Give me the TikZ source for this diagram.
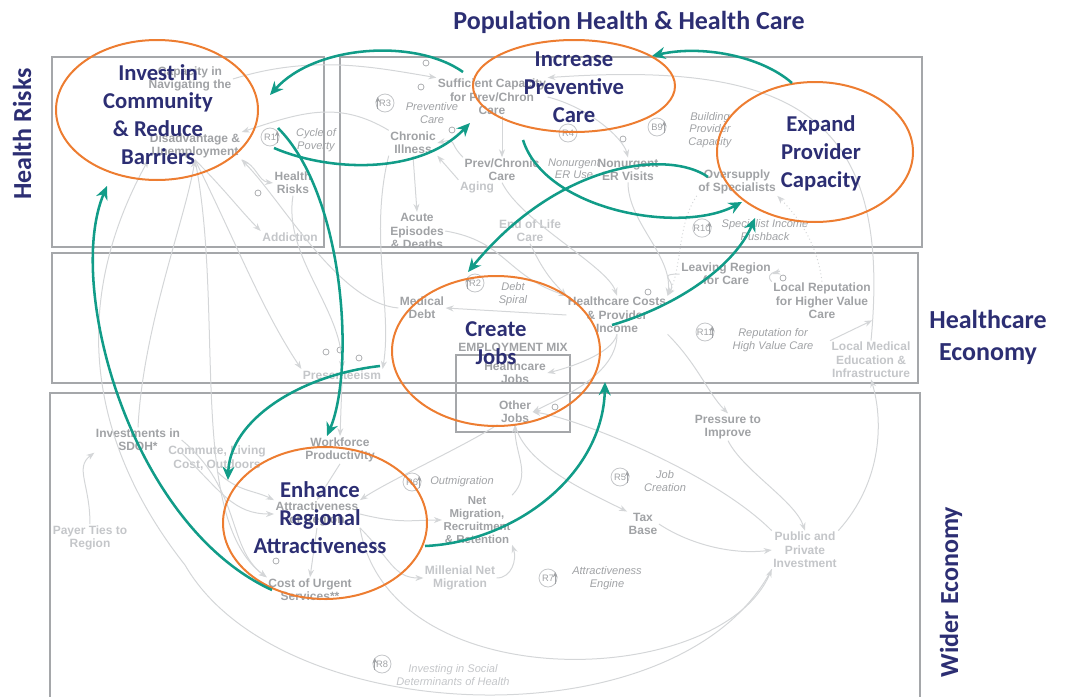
\documentclass[tikz,border=0pt]{standalone}
\usepackage{fontspec}
\setmainfont{Liberation Sans}
\newfontfamily\calfont{Carlito}
\usetikzlibrary{arrows.meta,shapes.geometric,calc}
\definecolor{navy}{RGB}{44,46,115}
\definecolor{tealc}{RGB}{17,156,136}
\definecolor{orng}{RGB}{237,125,49}
\definecolor{lab}{RGB}{160,162,165}
\definecolor{labl}{RGB}{196,198,201}
\definecolor{gline}{RGB}{212,214,216}
\definecolor{boxc}{RGB}{165,167,170}
\begin{document}
\begin{tikzpicture}[x=0.75pt,y=-0.75pt,
  glab/.style={font=\bfseries\fontsize{9}{10}\selectfont, text=lab, align=center, inner sep=1pt},
  glabl/.style={glab, text=labl},
  gital/.style={font=\itshape\fontsize{8.3}{9.3}\selectfont, text=lab, align=center, inner sep=1pt},
  loopc/.style={circle, draw=labl, line width=0.6pt, minimum size=13.5pt, inner sep=0pt, font=\fontsize{7}{8}\selectfont, text=lab},
  la/.style={draw=lab, line width=0.6pt, -{Stealth[length=4pt,width=3.5pt]}},
  pol/.style={circle, draw=lab, line width=0.5pt, minimum size=4.5pt, inner sep=0pt},
  gl/.style={draw=gline, line width=0.75pt},
  ga/.style={gl, -{Stealth[length=6pt,width=4.5pt]}},
  gd/.style={ga, dotted},
  box/.style={draw=boxc, line width=0.9pt},
  ell/.style={ellipse, draw=orng, line width=1.5pt, inner sep=0pt},
  big/.style={font=\calfont\bfseries\fontsize{17}{21}\selectfont, text=navy, align=center, inner sep=0pt},
  ttl/.style={font=\calfont\bfseries\fontsize{19.5}{24}\selectfont, text=navy, align=center, inner sep=0pt},
  ta/.style={draw=tealc, line width=1.9pt, -{Stealth[length=10pt,width=9pt]}}
]
\useasboundingbox (0,0) rectangle (1067,696);

% ---------- boxes ----------
\draw[box] (52,57) rectangle (324,247);
\draw[box] (340,57) rectangle (922,247);
\draw[box] (52,253) rectangle (918,383);
\draw[box] (50,393) rectangle (920,710);
\draw[box] (456,355) rectangle (570,432);

% ---------- titles ----------
\node[ttl] (tpop) at (629,22) {Population Health \& Health Care};
\node[ttl, rotate=90] (thr) at (22,134) {Health Risks};
\node[ttl] (the) at (988,337) {Healthcare\\Economy};
\node[ttl, rotate=90] (twe) at (951,592) {Wider Economy};

% ---------- gray labels ----------
\node[glab] (nav) at (190,79) {Capacity in\\Navigating the};
\node[glab] (dis) at (195,146) {Disadvantage \&\\Unemployment};
\node[gital] (cyc) at (316,140) {Cycle of\\Poverty};
\node[glab] (hr) at (293,183) {Health\\Risks};
\node[glabl] (add) at (290,237) {Addiction};
\node[glab] (suf) at (492,97) {Sufficient Capacity\\for Prev/Chron\\Care};
\node[gital] (prevc) at (432,113) {Preventive\\Care};
\node[glab] (chr) at (413,143) {Chronic\\Illness};
\node[glab] (pcc) at (502,170) {Prev/Chronic\\Care};
\node[glabl] (aging) at (477,187) {Aging};
\node[glab] (acute) at (417,231) {Acute\\Episodes\\\& Deaths};
\node[glabl] (eol) at (530,231) {End of Life\\Care};
\node[gital] (neru) at (574,169) {Nonurgent\\ER Use};
\node[glab] (ner) at (628,170) {Nonurgent\\ER Visits};
\node[gital] (bpc) at (710,130) {Building\\Provider\\Capacity};
\node[glab] (ovs) at (737,182) {Oversupply\\of Specialists};
\node[gital] (sip) at (765,230) {Specialist Income\\Pushback};
\node[glab] (med) at (422,308) {Medical\\Debt};
\node[gital] (dsp) at (513,294) {Debt\\Spiral};
\node[glab] (hcc) at (617,315) {Healthcare Costs\\\& Provider\\Income};
\node[glab] (emx) at (513,347) {EMPLOYMENT MIX};
\node[glab] (hcj) at (515,373) {Healthcare\\Jobs};
\node[glab] (othj) at (515,412) {Other\\Jobs};
\node[glabl] (pres) at (342,375) {Presenteeism};
\node[glab] (lrc) at (726,274) {Leaving Region\\for Care};
\node[glab] (lrep) at (822,301) {Local Reputation\\for Higher Value\\Care};
\node[gital] (rhv) at (773,340) {Reputation for\\High Value Care};
\node[glabl] (lme) at (871,360) {Local Medical\\Education \&\\Infrastructure};
\node[glab] (inv) at (138,440) {Investments in\\SDOH*};
\node[glabl] (com) at (217,458) {Commute, Living\\Cost, Outdoors};
\node[glabl] (pay) at (90,538) {Payer Ties to\\Region};
\node[glab] (wfp) at (340,450) {Workforce\\Productivity};
\node[glab] (attr) at (317,514) {Attractiveness\\of Region};
\node[glab] (cus) at (310,590) {Cost of Urgent\\Services**};
\node[gital] (outm) at (462,482) {Outmigration};
\node[glab, font=\bfseries\fontsize{8.6}{9.6}\selectfont] (netm) at (477,520) {Net\\Migration,\\Recruitment\\\& Retention};
\node[glabl] (mil) at (460,578) {Millenial Net\\Migration};
\node[gital] (ae) at (607,578) {Attractiveness\\Engine};
\node[gital] (jc) at (665,481) {Job\\Creation};
\node[glab] (tax) at (643,524) {Tax\\Base};
\node[glab] (pti) at (728,427) {Pressure to\\Improve};
\node[glabl] (ppi) at (805,550) {Public and\\Private\\Investment};
\node[gital, text=labl] (isd) at (453,675) {Investing in Social\\Determinants of Health};

% ---------- loop markers ----------
\node[loopc] (r1) at (270,137) {R1};
\node[loopc] (r3) at (385,103) {R3};
\node[loopc] (r4) at (568,133) {R4};
\node[loopc] (b9) at (657,127) {B9};
\node[loopc] (r10) at (702,228) {R10};
\node[loopc] (r2) at (475,283) {R2};
\node[loopc] (r11) at (705,332) {R11};
\node[loopc] (r6) at (412,482) {R6};
\node[loopc] (r5) at (620,477) {R5};
\node[loopc] (r7) at (548,578) {R7};
\node[loopc] (r8) at (382,664) {R8};
\draw[la] (r1.-40) -- (r1.40);
\draw[la] (r3.220) -- (r3.140);
\draw[la] (b9.-40) -- (b9.40);
\draw[la] (r10.-40) -- (r10.40);
\draw[la] (r2.220) -- (r2.140);
\draw[la] (r11.-40) -- (r11.40);
\draw[la] (r6.-40) -- (r6.40);
\draw[la] (r5.-40) -- (r5.40);
\draw[la] (r7.-40) -- (r7.40);
\draw[la] (r8.220) -- (r8.140);

% ---------- polarity markers ----------
\node[pol] (p1) at (258,193) {};
\node[pol] (p2) at (421,87) {};
\node[pol] (p3) at (426,63) {};
\node[pol] (p4) at (452,130) {};
\node[pol] (p5) at (623,139) {};
\node[pol] (p6) at (648,292) {};
\node[pol] (p7) at (783,278) {};
\node[pol] (p8) at (326,352) {};
\node[pol] (p9) at (340,350) {};
\node[pol] (p10) at (359,358) {};
\node[pol] (p11) at (555,407) {};
\node[pol] (p12) at (276,561) {};

% ---------- gray links ----------
\draw[ga] (dis.south east) .. controls +(15,5) and +(-15,-2) .. (hr.west);
\draw[ga] (dis.south) .. controls +(30,30) and +(-20,-20) .. (add.north west);
\draw[ga] (nav.east) .. controls +(80,-25) and +(-60,-10) .. (suf.north west);
\draw[ga] (chr.north west) .. controls +(-50,-30) and +(60,-20) .. (dis.north east);
\draw[ga] (chr.south) -- (acute.north);
\draw[ga] (pcc.north west) .. controls +(-15,-15) and +(20,-5) .. (chr.east);
\draw[ga] (aging.north west) -- (chr.south east);
\draw[ga] (pcc.north |- suf.south) -- (pcc.north);
\draw[ga] (pcc.south) .. controls +(20,40) and +(-10,-30) .. (hcc.north);
\draw[ga] (ner.south) .. controls +(0,40) and +(5,-40) .. (hcc.north east);
\draw[ga] (eol.south) .. controls +(10,20) and +(-20,-20) .. (hcc.north west);
\draw[ga] (acute.east) .. controls +(60,10) and +(-60,-20) .. (hcc.north west);
\draw[ga] (suf.east) .. controls +(40,10) and +(-5,-20) .. (ner.north);
\draw[ga] (hcc.west) -- (med.east);
\draw[ga] (hcc.south) .. controls +(-5,20) and +(20,-5) .. (hcj.east);
\draw[ga] (hcc.south) .. controls +(0,40) and +(30,-15) .. (othj.east);
\draw[ga] (hcc.south east) .. controls +(30,30) and +(-20,-20) .. (pti.north);
\draw[ga] (pti.south) .. controls +(15,30) and +(-10,-30) .. (ppi.north);
\draw[ga] (tax.east) .. controls +(30,20) and +(-40,5) .. (ppi.west);
\draw[ga] (othj.south) .. controls +(10,40) and +(-40,-20) .. (tax.north west);
\draw[ga] (netm.north east) .. controls +(20,-20) and +(0,30) .. (othj.south);
\draw[ga] (mil.east) .. controls +(15,0) and +(5,15) .. (netm.south east);
\draw[ga] (ppi.north east) .. controls +(45,-50) and +(12,40) .. (lme.south);
\draw[ga] (lme.north west) -- (lrep.south east);
\draw[ga] (lrep.north west) .. controls +(-10,-10) and +(15,-5) .. (lrc.east);
\draw[ga] (lrc.west) .. controls +(-25,0) and +(10,-15) .. (hcc.north east);
\draw[ga] (lme.north) .. controls (892,120) and (800,60) .. (suf.north east);
\draw[gd] (ovs.south west) .. controls +(-20,30) and +(15,-30) .. (hcc.north east);
\draw[gd] (lrep.north) .. controls +(-5,-40) and +(20,20) .. (ovs.south east);
\draw[ga] (med.west) .. controls +(-60,-5) and +(40,40) .. (dis.south east);
\draw[ga] (dis.south) .. controls +(40,80) and +(-40,-60) .. (pres.north west);
\draw[ga] (hr.south) .. controls +(-10,60) and +(0,-60) .. (pres.north);
\draw[ga] (chr.south west) .. controls +(-20,80) and +(10,-60) .. (pres.north east);
\draw[ga] (pres.south) -- (wfp.north);
\draw[ga] (wfp.south) -- (attr.north);
\draw[ga] (inv.north) .. controls +(5,-100) and +(-10,60) .. (dis.south);
\draw[ga] (inv.south east) .. controls +(40,40) and +(-40,0) .. (attr.west);
\draw[ga] (inv.east) .. controls +(60,50) and +(-40,-30) .. (cus.north west);
\draw[ga] (pay.north) .. controls +(0,-40) and +(-20,15) .. (inv.south west);
\draw[ga] (com.south) .. controls +(20,20) and +(-20,-10) .. (attr.north west);
\draw[ga] (othj.south west) .. controls +(-30,20) and +(30,-20) .. (attr.north east);
\draw[ga] (ppi.north west) .. controls +(-60,-60) and +(40,5) .. (othj.east);
\draw[ga] (attr.east) .. controls +(40,10) and +(-30,0) .. (netm.west);
\draw[ga] (attr.south east) .. controls +(30,30) and +(-30,0) .. (mil.west);
\draw[ga] (attr.south) -- (cus.north);
\draw[ga] (dis.south) .. controls +(30,150) and +(-80,-60) .. (cus.north west);
\draw[ga] (attr.south east) .. controls (390,700) and (720,690) .. (ppi.south west);
\draw[ga] (ppi.south west) .. controls (680,745) and (280,730) .. (185,565) .. controls (110,470) and (55,330) .. (dis.south west);

% ---------- orange ellipses ----------
\node[ell, minimum width=151.5pt, minimum height=105pt] (einv) at (157,110) {};
\node[ell, minimum width=151.5pt, minimum height=69pt] (einc) at (574,86) {};
\node[ell, minimum width=147pt, minimum height=105pt] (eexp) at (815,152) {};
\node[ell, minimum width=156pt, minimum height=112.5pt] (ejob) at (496,351) {};
\node[ell, minimum width=153pt, minimum height=114pt] (eenh) at (325,523) {};

% ---------- big labels ----------
\node[big] (tinv) at (158,115) {Invest in\\Community\\\& Reduce\\Barriers};
\node[big] (tinc) at (574,87) {Increase\\Preventive\\Care};
\node[big] (texp) at (821,153) {Expand\\Provider\\Capacity};
\node[big] (tjob) at (496,343) {Create\\Jobs};
\node[big] (tenh) at (320,518) {Enhance\\Regional\\Attractiveness};

% ---------- teal arrows ----------
\coordinate (a1s) at (463,72);   \coordinate (a1e) at (270,95);
\coordinate (a2s) at (274,148);  \coordinate (a2e) at (470,123);
\coordinate (a3s) at (792,83);   \coordinate (a3e) at (652,56);
\coordinate (a4s) at (523,140);  \coordinate (a4e) at (742,202);
\coordinate (a5s) at (708,177);  \coordinate (a5e) at (468,272);
\coordinate (a6s) at (612,325);  \coordinate (a6e) at (755,218);
\coordinate (a7s) at (380,366);  \coordinate (a7e) at (228,480);
\coordinate (a8s) at (425,546);  \coordinate (a8e) at (605,382);
\coordinate (a9s) at (278,128);  \coordinate (a9e) at (327,436);
\coordinate (a10s) at (272,590); \coordinate (a10e) at (107,186);
\draw[ta] (a1s) .. controls (415,38) and (315,45) .. (a1e);
\draw[ta] (a2s) .. controls (330,172) and (420,175) .. (a2e);
\draw[ta] (a3s) .. controls (760,55) and (700,45) .. (a3e);
\draw[ta] (a4s) .. controls (545,210) and (680,235) .. (a4e);
\draw[ta] (a5s) .. controls (670,150) and (560,160) .. (a5e);
\draw[ta] (a6s) .. controls (680,305) and (735,265) .. (a6e);
\draw[ta] (a7s) .. controls (300,375) and (230,420) .. (a7e);
\draw[ta] (a8s) .. controls (515,542) and (603,475) .. (a8e);
\draw[ta] (a9s) .. controls (345,195) and (355,370) .. (a9e);
\draw[ta] (a10s) .. controls (130,525) and (65,285) .. (a10e);
\end{tikzpicture}
\end{document}
